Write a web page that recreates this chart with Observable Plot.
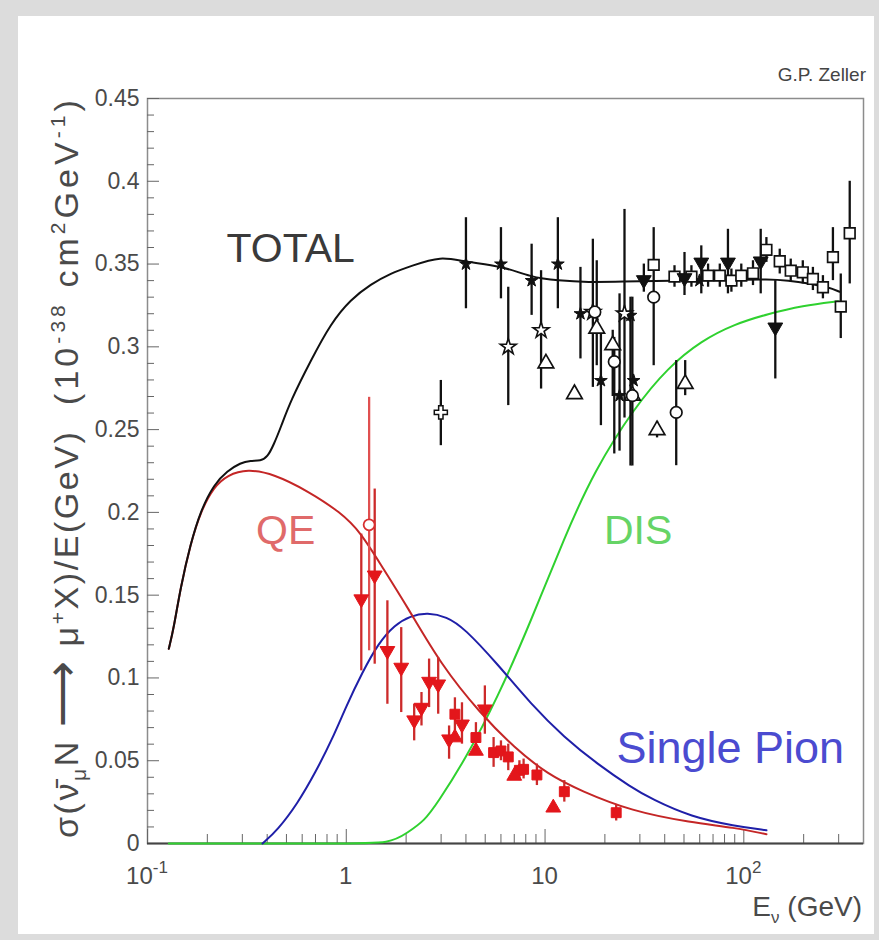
<!DOCTYPE html>
<html><head><meta charset="utf-8">
<script src="https://cdn.jsdelivr.net/npm/d3@7"></script>
<script src="https://cdn.jsdelivr.net/npm/@observablehq/plot@0.6"></script>
<style>
html,body{margin:0;padding:0;}
body{width:879px;height:940px;background:#dcdcdc;position:relative;overflow:hidden;font-family:"Liberation Sans",Arial,sans-serif;}
#panel{position:absolute;left:18px;top:16px;width:856px;height:918px;background:#fff;}
#chart{position:absolute;left:0;top:0;}
</style></head><body><div id="panel"></div><div id="chart"></div>
<script>
// ---- curves: [E (GeV), sigma/E] ----
const totalCurve = [[0.128,0.1176],[0.1357,0.1304],[0.1466,0.1546],[0.1646,0.181],[0.185,0.201],[0.216,0.217],[0.252,0.225],[0.294,0.230],[0.33,0.2312],[0.371,0.2312],[0.401,0.2332],[0.433,0.2413],[0.468,0.2513],[0.525,0.2675],[0.663,0.2917],[0.836,0.3142],[1.054,0.3287],[1.328,0.3378],[1.676,0.3445],[2.113,0.3487],[2.99,0.3549],[4.0,0.3511],[6.0,0.3491],[8.5,0.342],[11.6,0.340],[16.5,0.339],[24.2,0.3394],[41.6,0.340],[89.6,0.3404],[132.8,0.3408],[167.5,0.340],[211,0.3384],[266.6,0.336],[303,0.3333]];
const qeCurve = [[0.128,0.1176],[0.1357,0.1304],[0.1466,0.1546],[0.1646,0.181],[0.185,0.2005],[0.216,0.2155],[0.252,0.2225],[0.318,0.2262],[0.433,0.2232],[0.637,0.2131],[0.938,0.200],[1.18,0.188],[1.49,0.1685],[2.03,0.143],[2.99,0.108],[4.76,0.0781],[7.0,0.0579],[10.3,0.0418],[15.2,0.0317],[27.1,0.0196],[54.4,0.0126],[89.9,0.0096],[130,0.0056]];
const pionCurve = [[0.379,0],[0.45,0.008],[0.568,0.024],[0.7,0.043],[0.85,0.063],[1.0,0.083],[1.2,0.103],[1.45,0.121],[1.75,0.132],[2.1,0.1375],[2.56,0.1395],[3.2,0.137],[3.9,0.1304],[5.78,0.1083],[8.5,0.0841],[12.5,0.064],[18.4,0.0479],[27.1,0.034],[34.2,0.027],[54.4,0.016],[89.9,0.0106],[130,0.008]];
const disCurve = [[0.128,0],[1.0,0],[1.67,0],[2.03,0.0066],[2.47,0.0136],[2.88,0.0247],[3.93,0.0499],[5.78,0.0881],[8.5,0.1345],[12.5,0.1848],[17.7,0.2252],[28.2,0.2634],[41.6,0.2876],[61.1,0.3037],[89.9,0.3138],[132.3,0.3199],[198,0.3249],[298,0.3275]];

// ---- data points: [E, value, errLow, errHigh] ----
const blkStarFilled = [[4.0,0.350,0.323,0.378],[6.0,0.350,0.329,0.372],[8.56,0.340,0.319,0.362],[11.6,0.350,0.323,0.378],[15.07,0.320,0.2927,0.348],[19.1,0.2796,0.2524,0.31],[23.7,0.2705,0.237,0.332],[26.9,0.319,0.228,0.33],[27.9,0.2796,null,null],[59.8,0.340,null,null]];
const blkStarOpen = [[6.53,0.300,0.2645,0.336],[9.55,0.310,0.2745,0.346],[17.4,0.321,0.2755,0.365],[25.1,0.320,0.257,0.383]];
const blkTriangle = [[10.1,0.290,null,null],[14.06,0.2715,null,null],[18.2,0.311,0.2886,0.352],[21.9,0.301,0.27,0.31],[27.5,0.2705,null,null],[36.6,0.2497,0.245,0.255],[50.7,0.2776,0.2705,0.2917]];
const blkCircle = [[17.8,0.321,null,null],[22.3,0.291,0.2353,0.3057],[27.5,0.2705,0.228,0.33],[35.2,0.330,null,null],[45.7,0.2604,0.2282,0.2917]];
const blkSquare = [[35.2,0.3495,0.2886,0.372],[44.8,0.3424,0.336,0.349],[54.5,0.3424,0.336,0.349],[66.1,0.343,0.336,0.35],[75.7,0.343,0.336,0.35],[86.6,0.340,0.333,0.347],[97.1,0.343,0.336,0.35],[111.2,0.3444,0.337,0.352],[129.9,0.3586,0.351,0.366],[151.6,0.3517,0.344,0.359],[172.2,0.346,0.339,0.353],[198,0.345,0.338,0.352],[222.6,0.341,0.334,0.348],[250,0.336,0.329,0.343],[280.7,0.3542,0.340,0.372],[307.4,0.3243,0.305,0.344],[341,0.3686,0.338,0.400]];
const blkDown = [[31.4,0.3404,0.333,0.350],[50.3,0.3416,0.331,0.357],[61.1,0.351,0.332,0.361],[83.2,0.351,0.332,0.371],[121.6,0.3517,0.332,0.371],[144,0.3118,0.2806,0.34]];
const blkCross = [[2.99,0.2604,0.2403,0.2797]];

const redDown = [[1.19,0.1476,0.1043,0.1869],[1.39,0.162,0.1083,0.2141],[1.61,0.1164,0.0841,0.1466],[1.89,0.1063,0.0791,0.1304],[2.196,0.0745,0.062,0.0841],[2.39,0.0821,0.071,0.0912],[2.61,0.0978,0.0821,0.1114],[2.90,0.0962,0.0781,0.1124],[3.29,0.063,0.0509,0.071],[3.82,0.072,0.06,0.085],[4.98,0.0811,0.066,0.0952]];
const redCircle = [[1.303,0.1925,0.1164,0.2695]];
const redSquare = [[3.52,0.0781,0.068,0.088],[4.49,0.064,0.054,0.073],[5.51,0.0549,0.046,0.064],[6.0,0.0559,0.05,0.062],[6.53,0.0523,0.044,0.06],[7.43,0.0442,0.038,0.05],[7.8,0.0448,0.039,0.051],[9.1,0.0414,0.035,0.048],[12.5,0.0313,0.025,0.038],[22.8,0.0186,0.0136,0.0236]];
const redUp = [[3.52,0.064,null,null],[4.49,0.0559,null,null],[7.0,0.0408,null,null],[11.0,0.0216,null,null]];

// ---- annotations & ticks ----
const curveLabels = [{key:"total",text:"TOTAL",E:0.525,v:0.3593},{key:"qe",text:"QE",E:0.4956,v:0.1889},{key:"dis",text:"DIS",E:29.4,v:0.1889},{key:"pion",text:"Single Pion",E:85.5,v:0.0571}];
const yTickValues = [0,0.05,0.1,0.15,0.2,0.25,0.3,0.35,0.4,0.45];
const yTickLabels = ["0","0.05","0.1","0.15","0.2","0.25","0.3","0.35","0.4","0.45"];
const xMajorTicks = [0.1,1,10,100];
const xTickLabels = [["10","-1"],["1",""],["10",""],["10","2"]];
const xMinorTicks = [0.2,0.3,0.4,0.5,0.6,0.7,0.8,0.9,2,3,4,5,6,7,8,9,20,30,40,50,60,70,80,90,200,300];
const yMinorTicks = d3.range(0,0.4501,0.01).filter(v => Math.abs(v*20 - Math.round(v*20)) > 1e-6);

const W = 879, H = 940, mL = 147, mR = 16, mT = 98, mB = 97;
const fW = W - mL - mR, fH = H - mT - mB;
const labelColor = {total:"#3a3a3a", qe:"#e06a6a", dis:"#66d466", pion:"#4b4bd0"};
const BLK = "#111", RED = "#e3161b", REDBAR = "#cc2a2a";
const has = d => d[2] != null;
const bars = (arr, stroke, sw=2.3) => Plot.ruleX(arr.filter(has), {x: d=>d[0], y1: d=>d[2], y2: d=>d[3], stroke, strokeWidth: sw});
const X = d=>d[0], Y = d=>d[1];

const plot = Plot.plot({
  width: W, height: H,
  marginLeft: mL, marginRight: mR, marginTop: mT, marginBottom: mB,
  style: {background: "transparent", fontFamily: "'Liberation Sans', Arial, sans-serif", overflow: "visible"},
  x: {type: "log", domain: [0.1, 400], axis: null},
  y: {domain: [0, 0.45], axis: null},
  marks: [
    Plot.frame({stroke: "#8c8c8c", strokeWidth: 1.5}),
    Plot.tickX(xMinorTicks, {x: d=>d, insetTop: fH - 9, stroke: "#666", strokeWidth: 1}),
    Plot.tickX(xMajorTicks, {x: d=>d, insetTop: fH - 14, stroke: "#666", strokeWidth: 1}),
    Plot.tickY(yMinorTicks, {y: d=>d, insetRight: fW - 7, stroke: "#666", strokeWidth: 1}),
    Plot.tickY(yTickValues, {y: d=>d, insetRight: fW - 12, stroke: "#666", strokeWidth: 1}),
    Plot.ruleY([0], {stroke: "#444", strokeWidth: 2}),
    Plot.text(yTickValues, {y: d=>d, frameAnchor: "left", dx: -8, textAnchor: "end", text: (d,i)=>yTickLabels[i], fontSize: 23, fill: "#4a4a4a"}),
    // curves
    Plot.line(disCurve, {x: X, y: Y, stroke: "#2fd12f", strokeWidth: 2, curve: "basis"}),
    Plot.line(pionCurve, {x: X, y: Y, stroke: "#1f1fa8", strokeWidth: 2, curve: "basis"}),
    Plot.line(qeCurve, {x: X, y: Y, stroke: "#c42626", strokeWidth: 2, curve: "basis"}),
    Plot.line(totalCurve, {x: X, y: Y, stroke: "#111", strokeWidth: 2, curve: "basis"}),
    // black data
    bars(blkStarFilled, BLK), bars(blkStarOpen, BLK), bars(blkTriangle, BLK), bars(blkCircle, BLK),
    bars(blkSquare, BLK), bars(blkDown, BLK), bars(blkCross, BLK),
    Plot.dot(blkStarFilled, {x: X, y: Y, symbol: "star", r: 4, fill: BLK, stroke: BLK, strokeWidth: 1}),
    Plot.dot(blkStarOpen, {x: X, y: Y, symbol: "star", r: 5, fill: "white", stroke: BLK, strokeWidth: 1.6}),
    Plot.dot(blkTriangle, {x: X, y: Y, symbol: "triangle", r: 5.8, fill: "white", stroke: BLK, strokeWidth: 1.7}),
    Plot.dot(blkCircle, {x: X, y: Y, symbol: "circle", r: 5.8, fill: "white", stroke: BLK, strokeWidth: 1.7}),
    Plot.dot(blkSquare, {x: X, y: Y, symbol: "square", r: 6, fill: "white", stroke: BLK, strokeWidth: 1.7}),
    Plot.dot(blkDown, {x: X, y: Y, symbol: "triangle", rotate: 180, r: 5.5, fill: BLK, stroke: BLK, strokeWidth: 1}),
    Plot.dot(blkCross, {x: X, y: Y, symbol: "cross", r: 5.5, fill: "white", stroke: BLK, strokeWidth: 1.5}),
    // red data
    bars(redDown, REDBAR), bars(redCircle, "#e05050"), bars(redSquare, REDBAR),
    Plot.dot(redDown, {x: X, y: Y, symbol: "triangle", rotate: 180, r: 5.5, fill: RED, stroke: RED, strokeWidth: 1}),
    Plot.dot(redSquare, {x: X, y: Y, symbol: "square", r: 5.6, fill: RED, stroke: RED, strokeWidth: 1}),
    Plot.dot(redUp, {x: X, y: Y, symbol: "triangle", r: 5.5, fill: RED, stroke: RED, strokeWidth: 1}),
    Plot.dot(redCircle, {x: X, y: Y, symbol: "circle", r: 5.5, fill: "white", stroke: "#d83030", strokeWidth: 1.8}),
    // curve labels
    Plot.text(curveLabels.filter(d=>d.key!=="pion"), {x: "E", y: "v", text: "text", fontSize: 41, fill: d=>labelColor[d.key], textAnchor: "middle", lineAnchor: "middle"}),
    Plot.text(curveLabels.filter(d=>d.key==="pion"), {x: "E", y: "v", text: "text", fontSize: 45, fill: d=>labelColor[d.key], textAnchor: "middle", lineAnchor: "middle"})
  ]
});
document.getElementById("chart").appendChild(plot);

const svg = d3.select(plot);
const xs = plot.scale("x");
const fam = "'Liberation Sans', Arial, sans-serif";
// x tick labels
xMajorTicks.forEach((v, i) => {
  const [base, sup] = xTickLabels[i];
  const t = svg.append("text").attr("x", xs.apply(v)).attr("y", 884).attr("text-anchor", "middle")
    .attr("font-family", fam).attr("font-size", 24).attr("fill", "#4a4a4a");
  t.append("tspan").text(base);
  if (sup) t.append("tspan").attr("dy", -11).attr("font-size", 17).text(sup);
});
// x axis title
const xt = svg.append("text").attr("x", 862).attr("y", 916).attr("text-anchor", "end")
  .attr("font-family", fam).attr("font-size", 28).attr("fill", "#4a4a4a");
xt.append("tspan").text("E");
xt.append("tspan").attr("dy", 7).attr("font-size", 17).text("ν");
xt.append("tspan").attr("dy", -7).text(" (GeV)");

// y axis title, two parts, stretched to the reference's extent
function fit(node, target) {
  const L = node.getComputedTextLength(), n = node.getNumberOfChars();
  d3.select(node).attr("letter-spacing", Math.max(0, (target - L) / n));
}
const ya = svg.append("text").attr("transform", "translate(78,838) rotate(-90)").attr("text-anchor", "start")
  .attr("font-family", fam).attr("font-size", 34).attr("fill", "#4a4a4a");
ya.append("tspan").text("σ(ν\u0304");
ya.append("tspan").attr("dy", 8).attr("font-size", 21).text("μ");
ya.append("tspan").attr("dy", -8).text("N ");
ya.append("tspan").attr("font-size", 46).text("\u27F6");
ya.append("tspan").text(" μ");
ya.append("tspan").attr("dy", -13).attr("font-size", 21).text("+");
ya.append("tspan").attr("dy", 13).text("X)/E(GeV)");
fit(ya.node(), 411);
const yb = svg.append("text").attr("transform", "translate(78,405) rotate(-90)").attr("text-anchor", "start")
  .attr("font-family", fam).attr("font-size", 34).attr("fill", "#4a4a4a");
yb.append("tspan").text("(10");
yb.append("tspan").attr("dy", -13).attr("font-size", 21).text("-38");
yb.append("tspan").attr("dy", 13).text(" cm");
yb.append("tspan").attr("dy", -13).attr("font-size", 21).text("2");
yb.append("tspan").attr("dy", 13).text("GeV");
yb.append("tspan").attr("dy", -13).attr("font-size", 21).text("-1");
yb.append("tspan").attr("dy", 13).text(")");
fit(yb.node(), 309);
// author
svg.append("text").attr("x", 866).attr("y", 81).attr("text-anchor", "end")
  .attr("font-family", fam).attr("font-size", 19).attr("fill", "#444").text("G.P. Zeller");
</script>
</body></html>
